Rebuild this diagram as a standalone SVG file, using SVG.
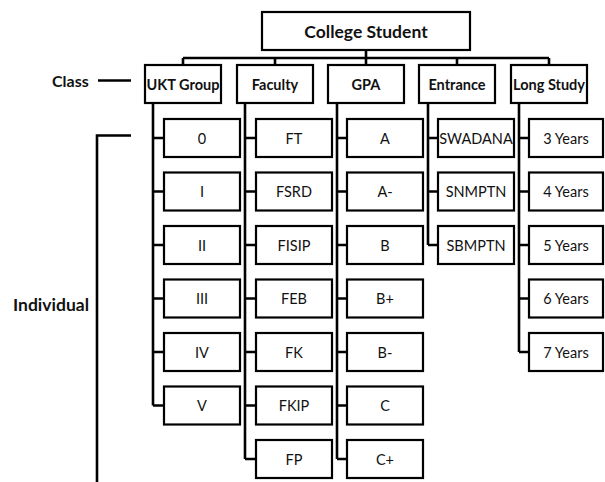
<svg xmlns="http://www.w3.org/2000/svg" width="605" height="482" viewBox="0 0 605 482">
<style>
.box{fill:#fff;stroke:#000;stroke-width:2.2}
.ln{fill:none;stroke:#000;stroke-width:2.6}
.t{font-family:Lato,"Open Sans",sans-serif;font-size:14.5px;fill:#111;text-anchor:middle;dominant-baseline:central}
.b{font-weight:bold}
.h{font-family:Lato,"Open Sans",sans-serif;font-size:16px;font-weight:bold;fill:#111}
</style>
<rect width="605" height="482" fill="#fff"/>
<g id="connectors">
<path class="ln" d="M366 50V58M183 58H549M183 58V65M275 58V65M366 58V65M457 58V65M549 58V65"/>
<path class="ln" d="M153 103V405.5M153 138H164M153 191.5H164M153 245H164M153 298.5H164M153 352H164M153 405.5H164"/>
<path class="ln" d="M245 103V459M245 138H256M245 191.5H256M245 245H256M245 298.5H256M245 352H256M245 405.5H256M245 459H256"/>
<path class="ln" d="M337 103V459M337 138H347M337 191.5H347M337 245H347M337 298.5H347M337 352H347M337 405.5H347M337 459H347"/>
<path class="ln" d="M428 103V245M428 138H438M428 191.5H438M428 245H438"/>
<path class="ln" d="M519 103V352M519 138H529M519 191.5H529M519 245H529M519 298.5H529M519 352H529"/>
<path class="ln" d="M98 80.5H131"/>
<path class="ln" d="M131 135.5H97V482"/>
</g>
<g id="labels">
<text class="h" x="52" y="87">Class</text>
<text class="h" x="13" y="311" style="font-size:17.5px">Individual</text>
</g>
<g id="root"><rect class="box" x="262" y="12" width="208" height="38"/><text class="t b" x="366" y="31" style="font-size:17.5px">College Student</text></g>
<g id="ukt"><rect class="box" x="145" y="65" width="76" height="38"/><text class="t b" x="183" y="84">UKT Group</text></g>
<g id="faculty"><rect class="box" x="237" y="65" width="76" height="38"/><text class="t b" x="275" y="84">Faculty</text></g>
<g id="gpa"><rect class="box" x="328" y="65" width="76" height="38"/><text class="t b" x="366" y="84">GPA</text></g>
<g id="entrance"><rect class="box" x="419" y="65" width="76" height="38"/><text class="t b" x="457" y="84">Entrance</text></g>
<g id="longstudy"><rect class="box" x="511" y="65" width="76" height="38"/><text class="t b" x="549" y="84">Long Study</text></g>
<g id="u0"><rect class="box" x="164" y="119" width="76" height="38"/><text class="t" x="202" y="138">0</text></g>
<g id="u1"><rect class="box" x="164" y="172.5" width="76" height="38"/><text class="t" x="202" y="191.5">I</text></g>
<g id="u2"><rect class="box" x="164" y="226" width="76" height="38"/><text class="t" x="202" y="245">II</text></g>
<g id="u3"><rect class="box" x="164" y="279.5" width="76" height="38"/><text class="t" x="202" y="298.5">III</text></g>
<g id="u4"><rect class="box" x="164" y="333" width="76" height="38"/><text class="t" x="202" y="352">IV</text></g>
<g id="u5"><rect class="box" x="164" y="386.5" width="76" height="38"/><text class="t" x="202" y="405.5">V</text></g>
<g id="f1"><rect class="box" x="256" y="119" width="76" height="38"/><text class="t" x="294" y="138">FT</text></g>
<g id="f2"><rect class="box" x="256" y="172.5" width="76" height="38"/><text class="t" x="294" y="191.5">FSRD</text></g>
<g id="f3"><rect class="box" x="256" y="226" width="76" height="38"/><text class="t" x="294" y="245">FISIP</text></g>
<g id="f4"><rect class="box" x="256" y="279.5" width="76" height="38"/><text class="t" x="294" y="298.5">FEB</text></g>
<g id="f5"><rect class="box" x="256" y="333" width="76" height="38"/><text class="t" x="294" y="352">FK</text></g>
<g id="f6"><rect class="box" x="256" y="386.5" width="76" height="38"/><text class="t" x="294" y="405.5">FKIP</text></g>
<g id="f7"><rect class="box" x="256" y="440" width="76" height="38"/><text class="t" x="294" y="459">FP</text></g>
<g id="g1"><rect class="box" x="347" y="119" width="76" height="38"/><text class="t" x="385" y="138">A</text></g>
<g id="g2"><rect class="box" x="347" y="172.5" width="76" height="38"/><text class="t" x="385" y="191.5">A-</text></g>
<g id="g3"><rect class="box" x="347" y="226" width="76" height="38"/><text class="t" x="385" y="245">B</text></g>
<g id="g4"><rect class="box" x="347" y="279.5" width="76" height="38"/><text class="t" x="385" y="298.5">B+</text></g>
<g id="g5"><rect class="box" x="347" y="333" width="76" height="38"/><text class="t" x="385" y="352">B-</text></g>
<g id="g6"><rect class="box" x="347" y="386.5" width="76" height="38"/><text class="t" x="385" y="405.5">C</text></g>
<g id="g7"><rect class="box" x="347" y="440" width="76" height="38"/><text class="t" x="385" y="459">C+</text></g>
<g id="e1"><rect class="box" x="438" y="119" width="76" height="38"/><text class="t" x="476" y="138">SWADANA</text></g>
<g id="e2"><rect class="box" x="438" y="172.5" width="76" height="38"/><text class="t" x="476" y="191.5">SNMPTN</text></g>
<g id="e3"><rect class="box" x="438" y="226" width="76" height="38"/><text class="t" x="476" y="245">SBMPTN</text></g>
<g id="l1"><rect class="box" x="529" y="119" width="74" height="38"/><text class="t" x="566" y="138">3 Years</text></g>
<g id="l2"><rect class="box" x="529" y="172.5" width="74" height="38"/><text class="t" x="566" y="191.5">4 Years</text></g>
<g id="l3"><rect class="box" x="529" y="226" width="74" height="38"/><text class="t" x="566" y="245">5 Years</text></g>
<g id="l4"><rect class="box" x="529" y="279.5" width="74" height="38"/><text class="t" x="566" y="298.5">6 Years</text></g>
<g id="l5"><rect class="box" x="529" y="333" width="74" height="38"/><text class="t" x="566" y="352">7 Years</text></g>
</svg>
